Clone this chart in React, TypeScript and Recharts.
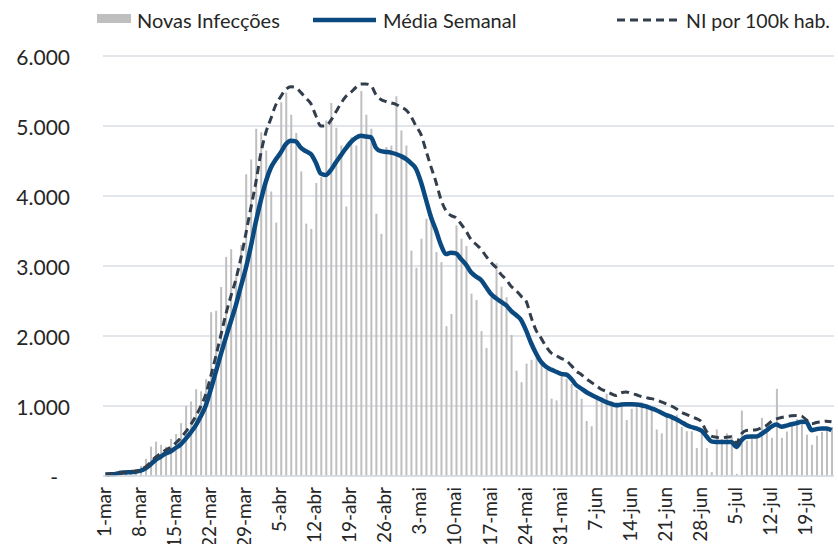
import React from 'react';
import { ComposedChart, Bar, Line, XAxis, YAxis, CartesianGrid, Legend } from 'recharts';

const MONTHS: [string, number][] = [['mar', 31], ['abr', 30], ['mai', 31], ['jun', 30], ['jul', 24]];
const DAYS: string[] = MONTHS.flatMap(([m, n]) => Array.from({ length: n }, (_, k) => `${k + 1}-${m}`));

const X_TICKS = ['1-mar', '8-mar', '15-mar', '22-mar', '29-mar', '5-abr', '12-abr', '19-abr', '26-abr', '3-mai', '10-mai', '17-mai', '24-mai', '31-mai', '7-jun', '14-jun', '21-jun', '28-jun', '5-jul', '12-jul', '19-jul'];
const Y_TICKS = [0, 1000, 2000, 3000, 4000, 5000, 6000];

const NOVAS = [
  5, 10, 8, 15, 30, 45, 60, 145, 245, 420, 490, 445, 420, 530, 600, 755, 1000, 1065, 1240, 1210,
  1385, 2340, 2360, 2700, 3130, 3240, 2850, 3300, 4310, 4520, 4960, 4910, 4650, 4065, 3620, 5340, 5480, 5160, 4900, 4350,
  3605, 3530, 4185, 4270, 5080, 5330, 4975, 4720, 3850, 4840, 4720, 5500, 5160, 4960, 3745, 3460, 4700, 4720, 5425, 4935,
  4720, 3220, 2975, 3390, 3675, 3745, 3200, 3055, 2140, 2315, 3580, 3390, 3285, 2605, 2515, 2070, 1830, 2555, 3040, 2705,
  2555, 2015, 1505, 1340, 1605, 1660, 1705, 1600, 1515, 1105, 1080, 1435, 1390, 1315, 1230, 1105, 785, 710, 1150, 1130,
  1175, 1070, 1055, 1010, 800, 960, 985, 1055, 985, 935, 665, 610, 850, 825, 875, 700, 640, 640, 400, 620,
  400, 55, 665, 530, 610, 565, 30, 935, 505, 540, 580, 830, 735, 545, 1245, 545, 635, 735, 815, 795,
  590, 445, 575, 630, 665, 700,
];

const MEDIA = [
  20, 25, 30, 45, 50, 55, 60, 75, 110, 165, 230, 275, 320, 350, 400, 450, 530, 620, 720, 850,
  1000, 1230, 1480, 1730, 1970, 2200, 2430, 2700, 2960, 3270, 3620, 3930, 4200, 4400, 4520, 4620, 4740, 4790, 4780, 4690,
  4640, 4600, 4480, 4320, 4300, 4370, 4480, 4580, 4680, 4770, 4830, 4860, 4850, 4840, 4690, 4640, 4630, 4620, 4600, 4570,
  4530, 4470, 4390, 4200, 3950, 3700, 3510, 3300, 3170, 3190, 3180, 3100, 3020, 2910, 2850, 2800, 2700, 2600, 2540, 2490,
  2440, 2360, 2300, 2230, 2080, 1900, 1750, 1630, 1560, 1520, 1490, 1460, 1450, 1390, 1300, 1250, 1200, 1160, 1125, 1090,
  1055, 1030, 1010, 1020, 1025, 1025, 1020, 1010, 995, 965, 940, 905, 870, 845, 810, 770, 730, 700, 680, 650,
  570, 495, 485, 485, 485, 485, 415, 510, 560, 565, 565, 600, 650, 705, 735, 705, 720, 740, 755, 775,
  770, 655, 670, 680, 680, 655,
];

const NI100K = [
  25, 30, 35, 50, 55, 60, 70, 90, 130, 195, 270, 320, 370, 410, 470, 540, 630, 730, 850, 990,
  1160, 1420, 1700, 2000, 2300, 2560, 2800, 3100, 3450, 3820, 4180, 4600, 4900, 5100, 5300, 5420, 5520, 5560, 5550, 5480,
  5400, 5320, 5150, 5000, 5000, 5080, 5200, 5320, 5420, 5480, 5550, 5600, 5600, 5580, 5450, 5380, 5350, 5330, 5310, 5270,
  5230, 5140, 5000, 4880, 4650, 4420, 4200, 3950, 3790, 3720, 3690, 3600, 3500, 3380, 3310, 3240, 3140, 3050, 2980, 2880,
  2810, 2710, 2650, 2570, 2500, 2270, 2080, 1970, 1850, 1760, 1720, 1680, 1650, 1580, 1500, 1450, 1390, 1340, 1290, 1240,
  1210, 1175, 1150, 1190, 1200, 1180, 1160, 1135, 1120, 1105, 1085, 1060, 1030, 1000, 960, 910, 880, 850, 820, 775,
  640, 570, 555, 545, 555, 560, 470, 600, 650, 655, 660, 690, 720, 780, 815, 835, 850, 860, 864, 855,
  800, 745, 765, 775, 783, 775,
];

const data = DAYS.map((day, i) => ({ day, novas: NOVAS[i], media: MEDIA[i], ni: NI100K[i] }));

const FONT = 'Lato, "Open Sans", sans-serif';
const TEXT = '#262626';
const BAR = '#bfbfbf';
const BLUE = '#0b4a80';
const DASH = '#323e4c';
const GRID = '#d9dde2';

const fmt = (v: number) => String(v).replace(/\B(?=(\d{3})+(?!\d))/g, '.');

const YTick = (props: any) => {
  const { y, payload } = props;
  if (payload.value === 0) {
    return <text x={58} y={y} textAnchor="end" dominantBaseline="central" fontFamily={FONT} fontSize={21} fill={TEXT}>-</text>;
  }
  return <text x={70} y={y} textAnchor="end" dominantBaseline="central" fontFamily={FONT} fontSize={21} fill={TEXT}>{fmt(payload.value)}</text>;
};

const XTick = (props: any) => {
  const { x, payload } = props;
  const tx = x - 2;
  const ty = 487;
  return (
    <text x={tx} y={ty} transform={`rotate(-90 ${tx} ${ty})`} textAnchor="end" dominantBaseline="central" fontFamily={FONT} fontSize={19} fill={TEXT}>
      {payload.value}
    </text>
  );
};

const LegendContent = () => (
  <svg width={838} height={40} style={{ display: 'block' }}>
    <rect x={97} y={14} width={34} height={9} fill={BAR} />
    <text x={137} y={20} dominantBaseline="central" fontFamily={FONT} fontSize={20} fill={TEXT}>Novas Infecções</text>
    <line x1={313} y1={20} x2={376} y2={20} stroke={BLUE} strokeWidth={4.5} />
    <text x={383} y={20} dominantBaseline="central" fontFamily={FONT} fontSize={20} fill={TEXT}>Média Semanal</text>
    <line x1={617} y1={20} x2={678} y2={20} stroke={DASH} strokeWidth={3} strokeDasharray="8 5" />
    <text x={686} y={20} dominantBaseline="central" fontFamily={FONT} fontSize={19.5} fill={TEXT}>NI por 100k hab.</text>
  </svg>
);

export default function App() {
  return (
    <div style={{ position: 'absolute', left: 0, top: 0, width: 838, height: 544, background: '#fff' }}>
      <ComposedChart width={838} height={544} data={data} margin={{ top: 56, right: 4, bottom: 0, left: 0 }}>
        <CartesianGrid vertical={false} stroke={GRID} strokeWidth={1.5} />
        <XAxis dataKey="day" ticks={X_TICKS} interval={0} height={68} tickLine={false} axisLine={{ stroke: GRID, strokeWidth: 1.5 }} tick={<XTick />} />
        <YAxis width={103} domain={[0, 6000]} ticks={Y_TICKS} axisLine={false} tickLine={false} tick={<YTick />} />
        <Legend layout="vertical" align="center" verticalAlign="middle" content={<LegendContent />} wrapperStyle={{ top: 0, left: 0, width: 838, height: 40 }} />
        <Bar dataKey="novas" name="Novas Infecções" fill={BAR} barSize={2} isAnimationActive={false} />
        <Line dataKey="media" name="Média Semanal" type="monotone" stroke={BLUE} strokeWidth={4.5} dot={false} strokeLinejoin="round" isAnimationActive={false} />
        <Line dataKey="ni" name="NI por 100k hab." type="monotone" stroke={DASH} strokeWidth={3} strokeDasharray="8 5" dot={false} isAnimationActive={false} />
      </ComposedChart>
    </div>
  );
}
